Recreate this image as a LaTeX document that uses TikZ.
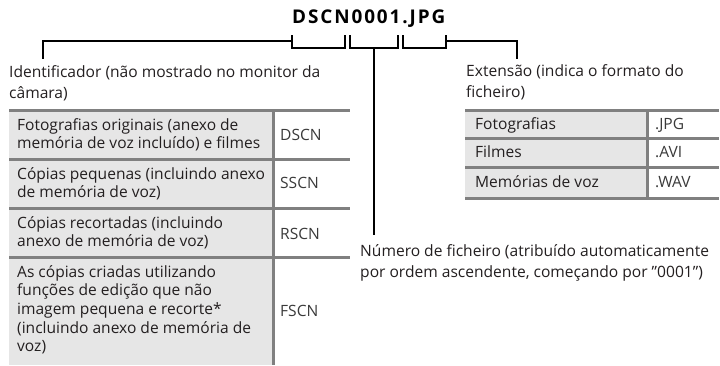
\documentclass[tikz,border=0pt]{standalone}
\usepackage{fontspec}
\setmainfont{Open Sans}
\newfontfamily\titlefont[LetterSpace=10]{Open Sans}
\definecolor{txt}{HTML}{231F20}
\definecolor{codegray}{HTML}{3A3A3A}
\definecolor{rulegray}{HTML}{808080}
\definecolor{cellfill}{HTML}{E6E6E6}
\newcommand{\mlines}[1]{\begin{tabular}[t]{@{}l@{}}#1\end{tabular}}
\newlength\measw
\begin{document}
% fit font sizes to the reference's text widths
\settowidth\measw{\fontsize{10}{12}\selectfont Identificador (não mostrado no monitor da}%
\pgfmathsetmacro\sA{10*308/\measw}%
\settowidth\measw{\fontsize{10}{12}\selectfont Extensão (indica o formato do}%
\pgfmathsetmacro\sB{10*214/\measw}%
\settowidth\measw{\fontsize{10}{12}\selectfont Número de ficheiro (atribuído automaticamente}%
\pgfmathsetmacro\sC{10*358/\measw}%
\pgfmathsetmacro\lblsize{(\sA+\sB+\sC)/3}%
\settowidth\measw{\fontsize{10}{12}\selectfont Fotografias originais (anexo de}%
\pgfmathsetmacro\sD{10*230/\measw}%
\settowidth\measw{\fontsize{10}{12}\selectfont memória de voz incluído) e filmes}%
\pgfmathsetmacro\sE{10*243/\measw}%
\pgfmathsetmacro\cellsize{min(\sD,\sE)}%
\settowidth\measw{\titlefont\bfseries\fontsize{10}{12}\selectfont DSCN0001.JPG}%
\pgfmathsetmacro\titlesize{10*153/\measw}%
\begin{tikzpicture}[x=1pt,y=-1pt,
  lbl/.style={anchor=base west, inner sep=0pt, text=txt, font=\fontsize{\lblsize}{21.5}\selectfont},
  cell/.style={anchor=base west, inner sep=0pt, text=txt, font=\fontsize{\cellsize}{18.7}\selectfont},
  code/.style={anchor=base west, inner sep=0pt, text=codegray, font=\fontsize{\cellsize}{16}\selectfont},
  rulel/.style={draw=rulegray, line width=3pt},
  lead/.style={draw=black, line width=2pt},
  fillcell/.style={fill=cellfill, draw=none}]
\useasboundingbox (0,0) rectangle (720,365);
\fill[white] (0,0) rectangle (720,365);

% title
\node[anchor=base west, inner sep=0pt, text=black, font=\titlefont\bfseries\fontsize{\titlesize}{20}\selectfont] (title) at (292,23) {DSCN0001.JPG};

% bracket coordinates
\coordinate (b1a) at (292,35); \coordinate (b1b) at (345,35);
\coordinate (b2a) at (350,35); \coordinate (b2b) at (398,35);
\coordinate (b3a) at (403,35); \coordinate (b3b) at (446,35);
\draw[lead] (b1a) -- ++(0,13) -| (b1b);
\draw[lead] (b2a) -- ++(0,13) -| (b2b);
\draw[lead] (b3a) -- ++(0,13) -| (b3b);
\coordinate (l1) at (292,41);
\coordinate (l2) at (374,48);
\coordinate (l3) at (446,41);

% labels
\node[lbl] (ident) at (9,77) {\mlines{Identificador (não mostrado no monitor da\\câmara)}};
\node[lbl] (ext) at (466,76) {\mlines{Extensão (indica o formato do\\ficheiro)}};
\node[lbl] (num) at (360,256) {\mlines{Número de ficheiro (atribuído automaticamente\\por ordem ascendente, começando por \symbol{34}0001\symbol{34})}};

\coordinate (identtop) at (43,59);
\coordinate (exttop) at (517,59);
\coordinate (numtop) at (374,235);
\draw[lead] (l1) -| (identtop);
\draw[lead] (l3) -| (exttop);
\draw[lead] (l2) -- (numtop);

% left table
\path[fillcell] (9,110) rectangle (273,365);
\draw[rulel] (9,110) -- (350,110);
\draw[rulel] (9,159) -- (350,159);
\draw[rulel] (9,208) -- (350,208);
\draw[rulel] (9,257) -- (350,257);
\draw[rulel] (273,110) -- (273,365);

\node[cell] (r1) at (17,130) {\mlines{Fotografias originais (anexo de\\memória de voz incluído) e filmes}};
\node[cell] (r2) at (17,179) {\mlines{Cópias pequenas (incluindo anexo\\de memória de voz)}};
\node[cell] (r3) at (17,228) {\mlines{Cópias recortadas (incluindo\\anexo de memória de voz)}};
\node[cell] (r4) at (17,277) {\mlines{As cópias criadas utilizando\\funções de edição que não\\imagem pequena e recorte*\\(incluindo anexo de memória de\\voz)}};
\node[code] (c1) at (280,140) {DSCN};
\node[code] (c2) at (280,188) {SSCN};
\node[code] (c3) at (280,239) {RSCN};
\node[code] (c4) at (280,316) {FSCN};

% right table
\path[fillcell] (465,110) rectangle (647,198);
\draw[rulel] (465,110) -- (719,110);
\draw[rulel] (465,138) -- (719,138);
\draw[rulel] (465,167) -- (719,167);
\draw[rulel] (465,198) -- (719,198);
\draw[rulel] (647,110) -- (647,198);

\node[cell] (e1) at (475,129) {Fotografias};
\node[cell] (e2) at (475,157) {Filmes};
\node[cell] (e3) at (475,187) {Memórias de voz};
\node[code] (f1) at (655,129) {.JPG};
\node[code] (f2) at (655,157) {.AVI};
\node[code] (f3) at (655,187) {.WAV};
\end{tikzpicture}
\end{document}
